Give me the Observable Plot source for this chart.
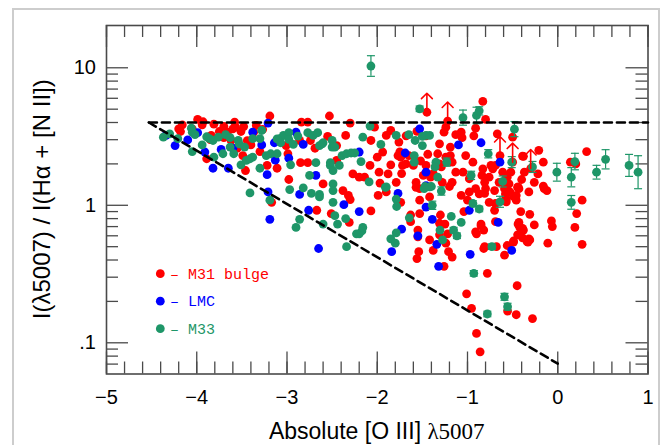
<!DOCTYPE html>
<html><head><meta charset="utf-8">
<script src="https://cdn.jsdelivr.net/npm/d3@7"></script>
<script src="https://cdn.jsdelivr.net/npm/@observablehq/plot@0.6"></script>
<style>
html,body{margin:0;padding:0;background:#fff;}
#wrap{position:relative;width:663px;height:445px;overflow:hidden;background:#fff;}
#border{position:absolute;left:12px;top:8px;width:648px;height:460px;border:2px solid #cdcdcd;box-sizing:border-box;}
#chart{position:absolute;left:0;top:0;}
</style></head><body>
<div id="wrap"><div id="border"></div><div id="chart"></div></div>
<script>
// ---- data: M31 bulge PNe ----
const m31X = [-3.99,-4.16,-3.94,-3.81,-3.58,-3.19,-2.84,-2.77,-2.53,-2.30,-4.18,-3.75,-3.66,-3.57,-3.51,-3.48,-3.37,-3.27,-2.86,-2.35,-2.55,-2.74,-2.07,-3.89,-3.62,-3.40,-3.49,-3.30,-2.99,-2.69,-2.45,-3.46,-3.22,-3.11,-2.85,-2.77,-2.45,-2.27,-2.20,-2.14,-2.08,-2.98,-2.60,-2.38,-2.32,-2.30,-3.84,-3.34,-3.01,-3.85,-3.70,-3.55,-3.44,-3.60,-3.70,-4.05,-4.20,-3.93,-3.17,-2.67,-2.51,-2.31,-2.07,-1.99,-1.97,-1.57,-1.07,-1.20,-0.83,-0.80,-1.24,-1.13,-1.07,-0.91,-0.67,-0.50,-0.21,-0.39,-0.16,0.32,0.14,0.20,-0.74,-0.69,-0.83,-0.81,-0.94,-1.05,-1.13,-1.17,-1.24,-1.29,-1.33,-1.65,-1.60,-1.72,-1.85,-1.94,-2.00,-1.85,-1.90,-1.76,-1.88,-1.98,-1.90,-1.53,-1.42,-0.98,-0.91,-0.70,-0.59,-0.58,-0.46,-0.40,-0.15,-0.12,-0.56,-0.54,-0.57,-0.61,-0.65,-0.76,-0.80,-0.87,-0.84,-0.43,-0.37,-0.32,-0.26,-0.22,-0.52,-0.72,-1.46,-1.41,-1.57,-1.79,-1.74,-1.02,-0.98,-1.17,-1.28,-0.44,-0.16,-0.38,-2.03,-1.75,-1.68,-1.56,-1.46,-1.26,-1.31,-1.19,-1.06,-0.93,-1.44,-1.31,-1.19,-1.52,-1.68,-1.77,-1.73,-1.49,-1.38,-1.74,-1.53,-1.00,-0.76,-0.57,-0.46,0.27,-0.69,-1.63,-1.53,-1.63,-1.30,-1.31,-1.25,-1.04,-0.85,-0.69,-0.41,-0.31,-0.43,-0.39,-0.26,-0.07,-0.06,0.21,0.19,-1.55,-1.55,-1.42,-1.31,-1.22,-0.91,-0.82,-1.24,-1.21,-1.17,-1.38,-1.54,-1.56,-0.82,-0.68,-0.59,-0.56,-0.49,-0.39,-0.33,-0.31,-0.11,0.27,-1.26,-0.78,-0.45,-1.01,-0.955,-0.556,-0.46,-0.28,-0.90,-0.86,-0.81,-0.445,-0.53,-0.49,-0.59,-0.70,-0.85,-0.90,-0.81,-0.44,-0.42,-0.38,-0.32,-0.34,-0.445,-0.49];
const m31Y = [4.21,3.85,3.85,3.89,4.03,4.46,4.03,4.03,4.46,3.96,3.44,3.44,3.40,3.70,3.44,3.74,3.40,3.56,2.96,3.22,3.17,2.96,2.96,2.18,2.96,2.75,2.30,2.46,2.37,2.60,2.72,1.79,1.95,1.86,2.04,2.04,2.12,1.69,1.60,1.60,1.95,1.54,1.43,1.28,1.18,1.10,3.22,3.81,2.72,3.00,3.10,2.60,2.95,3.60,3.75,3.60,3.60,4.05,1.05,0.92,0.87,0.75,0.91,1.18,1.45,1.35,1.18,1.37,5.69,4.21,3.70,3.26,3.40,3.64,3.31,3.13,2.51,2.28,2.06,2.46,2.06,2.00,1.95,1.95,1.84,1.47,2.06,1.74,1.74,1.47,2.24,1.90,2.37,2.30,1.95,1.95,1.97,2.44,2.24,3.50,3.22,2.88,1.69,1.74,1.25,1.32,1.15,1.25,1.32,1.28,1.32,1.21,1.18,1.54,1.32,1.28,1.60,1.43,1.11,1.74,1.47,1.60,1.32,1.21,1.65,1.32,1.74,1.25,1.47,1.69,1.74,1.84,1.95,1.60,1.47,1.47,2.24,2.30,1.56,2.06,1.47,1.36,1.38,2.27,3.70,2.45,3.20,3.45,3.20,3.40,2.80,2.65,3.10,3.20,2.35,2.00,2.30,2.10,2.00,2.30,1.70,1.65,1.70,1.05,1.09,1.09,1.05,1.06,1.09,1.09,1.03,0.85,0.87,0.76,0.85,0.74,0.73,0.90,0.73,0.76,0.90,0.86,0.75,0.68,0.72,0.77,0.70,0.87,0.69,0.66,0.59,0.56,0.61,0.62,0.64,0.66,0.53,0.46,0.42,0.47,0.46,0.41,0.485,0.50,0.434,0.51,0.54,0.58,0.54,0.56,0.53,0.52,0.36,0.32,0.26,0.227,0.178,0.17,0.16,0.15,0.117,0.086,1.22,1.35,1.25,1.16,1.08,0.92,0.71,0.62,0.50,0.73,0.69,0.66,0.57,0.545,0.61,0.55];
// M31 lower limits (arrows)
const m31LimX = [-1.45,-1.22,-0.64,-0.50,-0.30];
const m31LimY = [4.75,4.10,2.30,2.06,1.85];
// ---- LMC ----
const lmcX = [-3.21,-3.99,-4.34,-3.38,-2.90,-4.10,-4.24,-3.91,-3.73,-3.60,-3.28,-3.14,-2.82,-2.98,-3.13,-2.20,-2.68,-3.82,-3.65,-3.22,-3.21,-2.86,-1.77,-3.19,-2.76,-2.37,-2.20,-2.65,-1.53,-1.10,-0.85,-1.69,-1.46,-0.64,-1.46,-1.46,-0.98,-1.39,-0.66,-1.73,-1.55,-1.34,-1.84,-0.97,-0.51,-1.32];
const lmcY = [3.96,3.37,3.22,3.40,3.40,2.99,2.72,2.44,2.55,2.60,2.75,2.85,2.77,2.20,2.13,2.44,1.65,1.86,1.86,1.67,1.25,1.20,1.22,0.79,0.92,1.01,0.90,0.485,3.60,2.75,2.85,2.40,1.74,2.06,1.39,0.97,0.92,0.79,0.75,0.67,0.60,0.52,0.46,0.44,0.47,0.36];
// ---- M33 (with error half-width in dex) ----
const m33X = [-4.06,-2.08,-4.37,-4.30,-4.21,-4.05,-4.02,-3.86,-3.82,-3.76,-3.68,-3.54,-3.38,-3.30,-3.08,-3.04,-2.98,-2.88,-2.77,-2.71,-2.66,-2.60,-2.50,-2.16,-3.94,-4.05,-3.71,-3.63,-3.59,-3.53,-3.81,-3.38,-3.23,-3.18,-3.11,-3.07,-2.98,-2.93,-2.64,-2.61,-2.50,-2.47,-2.39,-2.34,-2.29,-2.25,-2.18,-2.68,-2.52,-3.51,-3.45,-3.41,-3.30,-2.96,-2.75,-2.52,-2.49,-2.42,-2.09,-3.41,-2.97,-2.82,-2.73,-2.64,-2.64,-2.49,-2.49,-3.89,-3.63,-3.47,-3.28,-3.11,-3.19,-2.49,-2.86,-2.90,-2.60,-2.47,-2.44,-2.35,-2.20,-2.17,-2.16,-2.23,-2.34,-1.91,-1.47,-1.40,-1.53,-1.05,-0.90,-0.87,-0.48,-1.96,-1.79,-1.65,-1.58,-1.50,-1.46,-1.42,-1.50,-1.59,-1.59,-1.35,-1.36,-1.23,-1.33,-1.29,-1.42,-1.48,-1.90,-0.96,-0.77,-0.61,-0.51,-0.28,-0.01,0.15,0.19,0.43,0.53,0.79,0.89,-1.79,-2.07,-1.785,-1.39,-0.94,-0.87,-0.64,0.15,-1.645,-1.18,-1.07,-1.79,-1.85,-1.80,-1.305,-1.276,-1.154,-1.117,-0.73,-0.93,-0.59,-0.556,-0.78];
const m33Y = [3.64,3.77,3.13,3.31,3.05,3.40,3.26,3.05,2.96,3.13,3.26,2.96,3.05,3.05,3.05,3.22,3.37,3.18,3.37,3.22,3.37,2.85,2.96,3.13,2.75,2.46,2.37,2.65,2.37,2.80,2.24,2.24,2.30,2.37,2.37,2.85,3.02,2.77,2.72,2.80,2.65,2.65,2.30,2.37,2.40,2.40,2.08,2.04,2.04,1.97,2.12,2.18,1.86,1.97,1.65,1.95,1.79,1.95,1.48,1.23,1.30,1.34,1.22,1.20,1.15,1.43,1.28,3.15,3.10,2.65,3.50,3.04,1.09,1.05,0.79,0.69,0.73,0.84,0.73,0.80,0.62,0.65,0.69,0.62,0.50,1.35,1.37,1.37,5.03,4.34,4.50,4.86,3.58,2.77,3.22,3.26,2.96,3.17,3.22,3.22,2.72,2.30,2.06,2.06,1.90,2.06,1.60,1.27,1.36,1.32,1.36,1.65,2.37,1.49,2.06,1.90,1.74,1.60,2.08,1.74,2.16,1.95,1.74,1.11,10.3,0.98,1.00,1.03,0.94,1.06,1.05,0.81,0.83,0.75,0.63,0.57,0.53,0.66,0.56,0.66,0.60,0.50,0.32,0.216,0.183,0.162];
const m33Err = [0,0,0,0,0,0,0,0,0,0,0,0,0,0,0,0,0,0,0,0,0,0,0,0,0,0,0,0,0,0,0,0,0,0,0,0,0,0,0,0,0,0,0,0,0,0,0,0,0,0,0,0,0,0,0,0,0,0,0,0,0,0,0,0,0,0,0,0,0,0,0,0,0,0,0,0,0,0,0,0,0,0,0,0,0,0,0,0,0.02,0.055,0.06,0.03,0.055,0,0,0,0,0,0,0,0,0,0,0,0,0.03,0,0.03,0,0,0,0.03,0.03,0.04,0.04,0.04,0.065,0.07,0.06,0.05,0.07,0.08,0.12,0,0.075,0,0.03,0.02,0.02,0.04,0.05,0,0,0,0,0,0,0,0,0.02,0.02,0.02,0.02,0.025,0.025,0.02];
// ---- model limit lines ----
const upperLineX = [-4.53, 1.0];
const upperLineY = [4.0, 4.0];
const lowerLineX = [-4.53, 0.0];
const lowerLineY = [4.0, 0.0705];
// ---- axes ----
const xMajor = [-5,-4,-3,-2,-1,0,1];
const xLabels = ["\u22125","\u22124","\u22123","\u22122","\u22121","0","1"];
const xMinor = d3.range(-5, 1.0001, 0.2);
const yMajor = [0.1, 1, 10];
const yLabels = [".1", "1", "10"];
const yMinor = [0.07,0.08,0.09,0.2,0.3,0.4,0.5,0.6,0.7,0.8,0.9,2,3,4,5,6,7,8,9];
const series = [
  {label: "M31 bulge", color: "#ff0000"},
  {label: "LMC", color: "#0000ff"},
  {label: "M33", color: "#1e9668"}
];

const red = series[0].color, blue = series[1].color, green = series[2].color;
const m31 = m31X.map((x, i) => ({x, y: m31Y[i]}));
const m31Lim = m31LimX.map((x, i) => ({x, y: m31LimY[i]}));
const lmc = lmcX.map((x, i) => ({x, y: lmcY[i]}));
const m33 = m33X.map((x, i) => ({x, y: m33Y[i], err: m33Err[i]}));
const m33E = m33.filter(d => d.err > 0);
const upperLine = upperLineX.map((x, i) => ({x, y: upperLineY[i]}));
const lowerLine = lowerLineX.map((x, i) => ({x, y: lowerLineY[i]}));

const W = 663, H = 445, mL = 106, mR = 15.5, mT = 25, mB = H - 373.5;
const pW = W - mL - mR, pH = H - mT - mB;
const ink = "#4a4a4a";
const R = 4.4;
const capSymbol = {draw(ctx, size) { const w = Math.sqrt(size / Math.PI); ctx.moveTo(-w, 0); ctx.lineTo(w, 0); }};

const chart = Plot.plot({
  width: W, height: H,
  marginLeft: mL, marginRight: mR, marginTop: mT, marginBottom: mB,
  style: {fontFamily: "'Liberation Sans', Arial, sans-serif", fontSize: "20px", background: "transparent", color: "black"},
  x: {domain: [-5, 1], ticks: xMajor, tickSize: 0, tickPadding: 16, tickFormat: d => xLabels[xMajor.indexOf(d)], label: null},
  y: {type: "log", domain: [0.0593, 20.3], ticks: yMajor, tickSize: 0, tickPadding: 10.5, tickFormat: d => yLabels[yMajor.indexOf(d)], label: null},
  marks: [
    Plot.tickX(xMinor, {x: d => d, insetTop: pH - 12, stroke: ink, strokeWidth: 1.3}),
    Plot.tickX(xMinor, {x: d => d, insetBottom: pH - 12, stroke: ink, strokeWidth: 1.3}),
    Plot.tickX(xMajor, {x: d => d, insetTop: pH - 22, stroke: ink, strokeWidth: 1.3}),
    Plot.tickX(xMajor, {x: d => d, insetBottom: pH - 22, stroke: ink, strokeWidth: 1.3}),
    Plot.tickY(yMinor, {y: d => d, insetRight: pW - 12, stroke: ink, strokeWidth: 1.3}),
    Plot.tickY(yMinor, {y: d => d, insetLeft: pW - 12, stroke: ink, strokeWidth: 1.3}),
    Plot.tickY(yMajor, {y: d => d, insetRight: pW - 22, stroke: ink, strokeWidth: 1.3}),
    Plot.tickY(yMajor, {y: d => d, insetLeft: pW - 22, stroke: ink, strokeWidth: 1.3}),
    Plot.frame({stroke: ink, strokeWidth: 1.6}),
    Plot.dot(m31, {x: "x", y: "y", r: R, fill: red}),
    Plot.dot(m31Lim, {x: "x", y: "y", r: R, fill: red}),
    Plot.dot(lmc, {x: "x", y: "y", r: R, fill: blue}),
    Plot.ruleX(m33E, {x: "x", y1: d => d.y / 10 ** d.err, y2: d => d.y * 10 ** d.err, stroke: green, strokeWidth: 1.2}),
    Plot.dot(m33E, {x: "x", y: d => d.y / 10 ** d.err, symbol: capSymbol, r: 4, stroke: green, strokeWidth: 1.2}),
    Plot.dot(m33E, {x: "x", y: d => d.y * 10 ** d.err, symbol: capSymbol, r: 4, stroke: green, strokeWidth: 1.2}),
    Plot.dot(m33, {x: "x", y: "y", r: R, fill: green}),
    Plot.vector(m31Lim, {x: "x", y: "y", length: 19, anchor: "start", r: 5, stroke: red, strokeWidth: 1.6}),
    Plot.line(upperLine, {x: "x", y: "y", stroke: "black", strokeWidth: 2.6, strokeDasharray: "8,5"}),
    Plot.line(lowerLine, {x: "x", y: "y", stroke: "black", strokeWidth: 2.6, strokeDasharray: "8,5"})
  ]
});
document.getElementById("chart").appendChild(chart);

const svg = d3.select(chart);
// axis titles
const xt = svg.append("text").attr("x", mL + pW / 2).attr("y", 438.5).attr("text-anchor", "middle")
  .style("font-size", "23px").style("font-family", "'Liberation Sans', Arial, sans-serif").attr("fill", "black");
xt.append("tspan").text("Absolute [O III] ");
xt.append("tspan").style("font-family", "'Liberation Serif', serif").text("\u03bb5007");
svg.append("text").attr("transform", `translate(42,${mT + pH / 2}) rotate(-90)`).attr("text-anchor", "middle").attr("dy", "0.35em")
  .style("font-size", "24px").style("font-family", "'Liberation Sans', Arial, sans-serif").attr("fill", "black")
  .text("I(\u03bb5007) / I(H\u03b1 + [N II])");
// legend
series.forEach((s, i) => {
  const cy = 273.7 + i * 27.5;
  svg.append("circle").attr("cx", 160.3).attr("cy", cy).attr("r", R).attr("fill", s.color);
  svg.append("text").attr("x", 170).attr("y", cy).attr("dy", "0.35em").attr("text-anchor", "start").attr("fill", s.color)
    .style("font-family", "'Liberation Mono', monospace").style("font-size", "15px")
    .text("\u2013 " + s.label);
});
</script>
</body></html>
